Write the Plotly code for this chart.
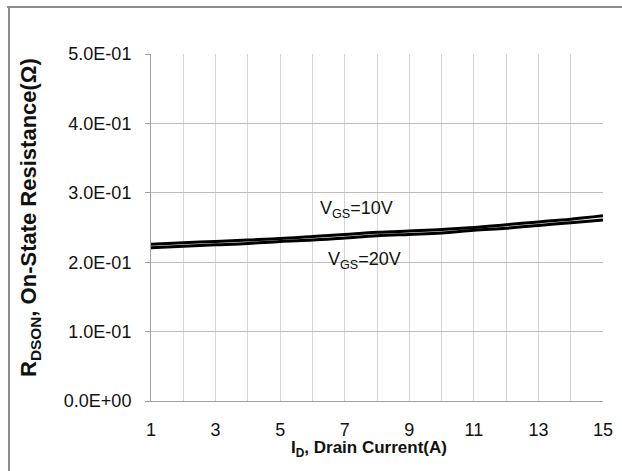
import plotly.graph_objects as go

current = list(range(1, 16))
r_vgs10 = [0.226, 0.228, 0.230, 0.232, 0.234, 0.237, 0.240, 0.243, 0.245, 0.247, 0.250, 0.254, 0.258, 0.262, 0.267]
r_vgs20 = [0.221, 0.223, 0.225, 0.227, 0.230, 0.232, 0.235, 0.238, 0.240, 0.242, 0.246, 0.249, 0.253, 0.257, 0.261]
y_tickvals = [0.0, 0.1, 0.2, 0.3, 0.4, 0.5]
y_ticktext = ["0.0E+00", "1.0E-01", "2.0E-01", "3.0E-01", "4.0E-01", "5.0E-01"]
x_tickvals = [1, 3, 5, 7, 9, 11, 13, 15]
x_title = "I<sub>D</sub>, Drain Current(A)"
y_title = "R<sub>DSON</sub>, On-State Resistance(Ω)"

W, H = 622, 471
L, R, T, B = 151, 19, 54, 70
pw, ph = W - L - R, H - T - B
def px2x(px):
    return (px - L) / pw
def py2y(py):
    return (H - B - py) / ph

FONT = "Liberation Sans, Arial, sans-serif"

fig = go.Figure()
fig.add_trace(go.Scatter(x=current, y=r_vgs10, mode="lines", line=dict(color="black", width=3, shape="spline"),
                         name="VGS=10V", showlegend=False))
fig.add_trace(go.Scatter(x=current, y=r_vgs20, mode="lines", line=dict(color="black", width=3, shape="spline"),
                         name="VGS=20V", showlegend=False))

fig.add_annotation(x=7.35, y=0.276, text="V<sub>GS</sub>=10V", showarrow=False,
                   font=dict(family=FONT, size=18, color="#111111"))
fig.add_annotation(x=7.6, y=0.203, text="V<sub>GS</sub>=20V", showarrow=False,
                   font=dict(family=FONT, size=18, color="#111111"))

# axis titles placed as in the reference
fig.add_annotation(xref="paper", yref="paper", x=px2x(369), y=py2y(449), text=x_title, showarrow=False,
                   xanchor="center", yanchor="middle",
                   font=dict(family=FONT, size=17, weight="bold", color="#111111"))
fig.add_annotation(xref="paper", yref="paper", x=px2x(30), y=py2y(218), text=y_title, showarrow=False,
                   textangle=-90, xanchor="center", yanchor="middle",
                   font=dict(family=FONT, size=22, weight="bold", color="#111111"))

# chart-area border (partly cropped)
fig.add_shape(type="line", xref="paper", yref="paper", x0=px2x(7), x1=px2x(640), y0=py2y(7), y1=py2y(7),
              line=dict(color="#8c8c8c", width=2))
fig.add_shape(type="line", xref="paper", yref="paper", x0=px2x(9), x1=px2x(9), y0=py2y(6), y1=py2y(480),
              line=dict(color="#8c8c8c", width=2))

fig.update_layout(
    width=W, height=H, autosize=False,
    margin=dict(l=L, r=R, t=T, b=B),
    paper_bgcolor="white", plot_bgcolor="white",
    font=dict(family=FONT, size=18, color="#111111"),
    xaxis=dict(range=[1, 15], tickvals=x_tickvals, showgrid=True, gridcolor="#d4d4d4", gridwidth=1,
               minor=dict(dtick=1, showgrid=True, gridcolor="#d4d4d4", gridwidth=1, tick0=1),
               showline=True, linecolor="#a0a0a0", linewidth=1, ticks="", zeroline=False,
               ticklabelstandoff=12, ticklabeloverflow="allow", automargin=False),
    yaxis=dict(range=[0, 0.5], tickvals=y_tickvals, ticktext=y_ticktext, showgrid=True, gridcolor="#bdbdbd",
               gridwidth=1, showline=True, linecolor="#a0a0a0", linewidth=1, ticks="outside", ticklen=5,
               tickcolor="#a0a0a0", zeroline=False, ticklabelstandoff=10, automargin=False),
)

fig.write_html("out.html", config={"displayModeBar": False},
               post_script="document.body.style.margin='0';document.body.style.overflow='hidden';")
